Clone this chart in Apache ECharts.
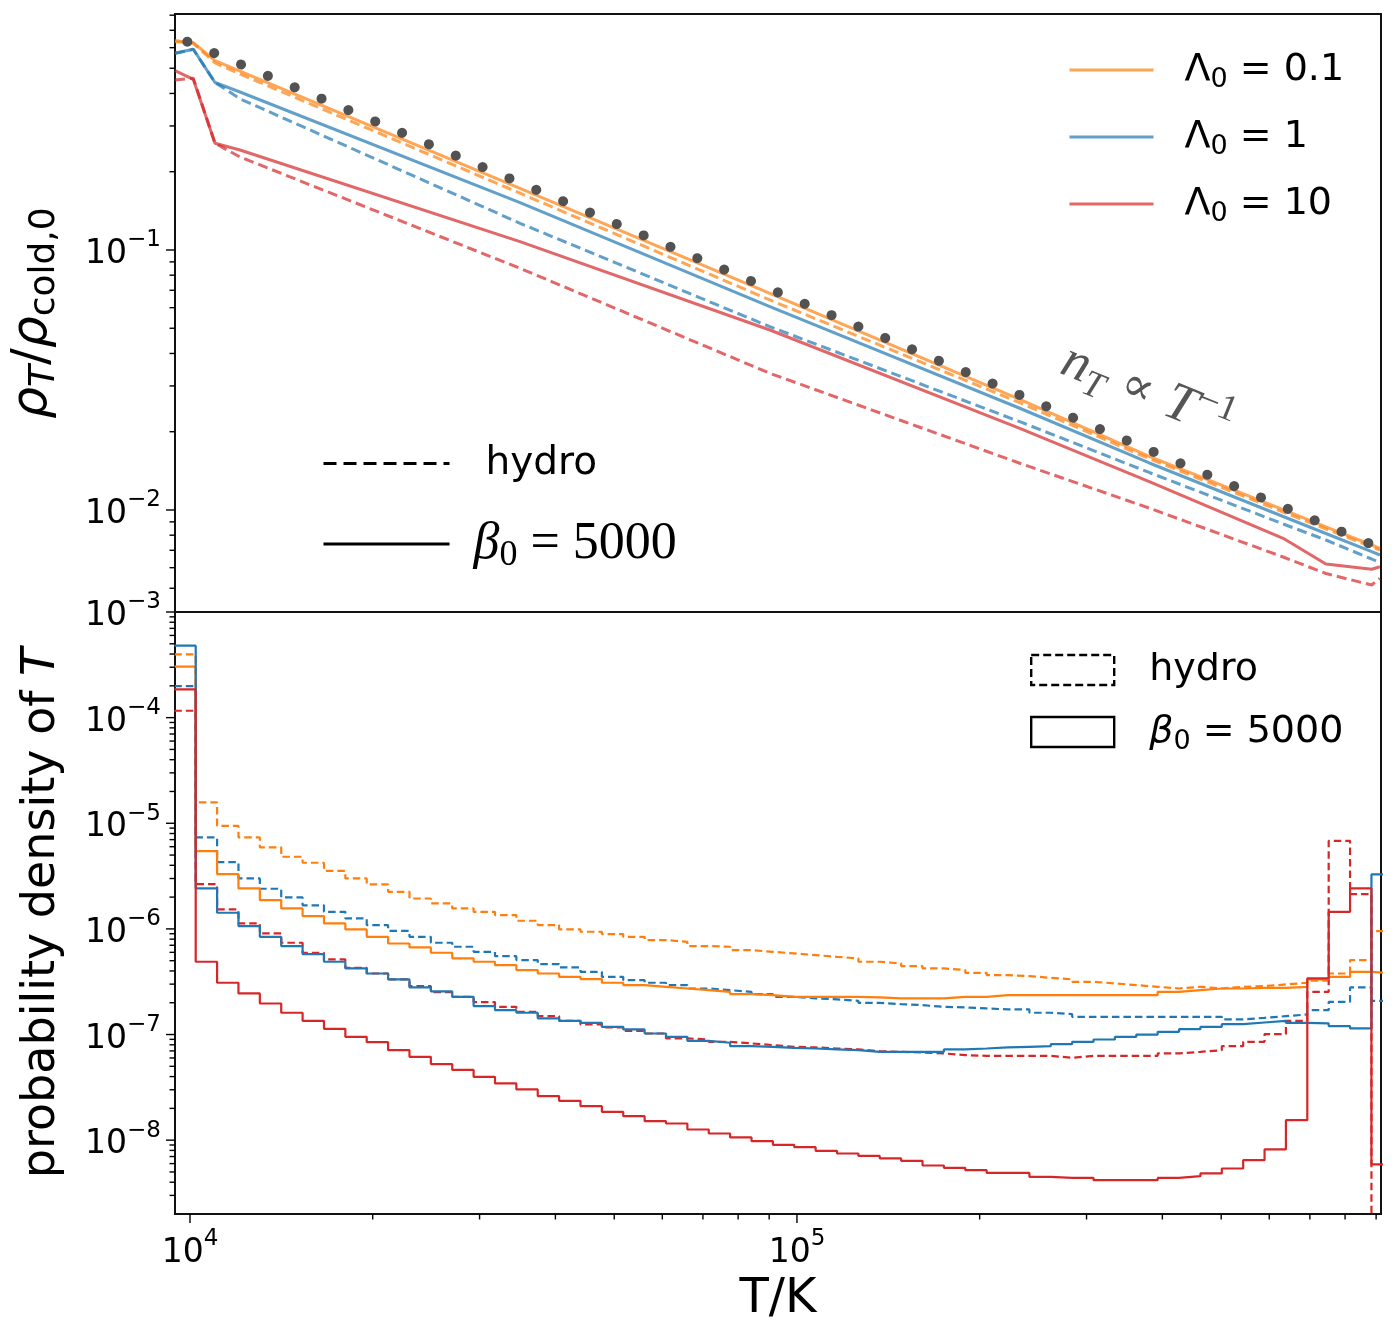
<!DOCTYPE html>
<html>
<head>
<meta charset="utf-8">
<script src="https://cdn.jsdelivr.net/npm/echarts@6/dist/echarts.min.js"></script>
<style>
html, body { margin: 0; padding: 0; background: #fff; }
#main { width: 1394px; height: 1332px; }
</style>
</head>
<body>
<div id="main"></div>
<script>
// ---------- top panel: rho_T / rho_cold,0 against T ----------
var topT = [9447, 10126, 10995, 12089, 34977, 90254, 232900, 381500, 632500, 743800, 884900, 912900];
var rhoOrangeMhd   = [0.6326, 0.6271, 0.5346, 0.4872, 0.1727, 0.06816, 0.02666, 0.01603, 0.01003, 0.008618, 0.007335, 0.007123];
var rhoOrangeHydro = [0.6395, 0.6238, 0.5238, 0.4752, 0.1653, 0.06423, 0.02586, 0.01571, 0.009824, 0.00845, 0.007206, 0.007017];
var rhoBlueMhd     = [0.5708, 0.5914, 0.4407, 0.4052, 0.1521, 0.06053, 0.02462, 0.01513, 0.009441, 0.008121, 0.006912, 0.006713];
var rhoBlueHydro   = [0.5708, 0.5914, 0.4407, 0.3815, 0.1267, 0.0507, 0.02186, 0.01391, 0.008835, 0.007667, 0.006479, 0.006271];
var rhoRedMhd      = [0.4893, 0.4534, 0.2572, 0.2424, 0.1077, 0.04924, 0.02062, 0.01284, 0.007783, 0.006199, 0.005914, 0.006052];
var rhoRedHydro    = [0.4506, 0.4575, 0.2572, 0.2279, 0.08503, 0.03355, 0.01513, 0.01015, 0.006595, 0.005699, 0.005146, 0.005461];

// dotted guide n_T ~ T^-1 (its two end points)
var guideT = [9898, 875800];
var guideRho = [0.6326, 0.007444];

// ---------- bottom panel: probability density of T (log10 values per bin) ----------
// bins are evenly spaced in log10(T)
var binEdgeLog0 = 3.9742;
var binWidthLog = 0.03522;
var logPdfOrangeHydro = [-3.401, -4.802, -5.024, -5.134, -5.228, -5.317, -5.374, -5.450, -5.522, -5.579,
  -5.649, -5.712, -5.759, -5.806, -5.838, -5.869, -5.923, -5.964, -6.005, -6.027,
  -6.049, -6.075, -6.106, -6.122, -6.163, -6.169, -6.201, -6.217, -6.232, -6.248,
  -6.264, -6.279, -6.311, -6.327, -6.352, -6.374, -6.390, -6.416, -6.438, -6.447,
  -6.463, -6.478, -6.501, -6.516, -6.532, -6.548, -6.564, -6.548, -6.564, -6.548,
  -6.542, -6.526, -6.510, -6.491, -6.422, -6.295, -6.021];
var logPdfOrangeMhd = [-3.518, -5.263, -5.481, -5.617, -5.727, -5.806, -5.879, -5.948, -6.005, -6.075,
  -6.138, -6.175, -6.226, -6.279, -6.311, -6.343, -6.390, -6.422, -6.454, -6.475,
  -6.510, -6.532, -6.548, -6.564, -6.580, -6.596, -6.617, -6.627, -6.643, -6.643,
  -6.643, -6.643, -6.649, -6.658, -6.658, -6.658, -6.643, -6.643, -6.627, -6.627,
  -6.627, -6.627, -6.627, -6.627, -6.627, -6.627, -6.596, -6.580, -6.564, -6.564,
  -6.558, -6.558, -6.548, -6.478, -6.454, -6.406, -6.422];
var logPdfBlueHydro = [-3.701, -5.134, -5.367, -5.522, -5.620, -5.702, -5.777, -5.838, -5.901, -5.964,
  -6.018, -6.075, -6.131, -6.169, -6.217, -6.258, -6.295, -6.333, -6.365, -6.406,
  -6.454, -6.485, -6.510, -6.532, -6.564, -6.580, -6.596, -6.617, -6.643, -6.658,
  -6.667, -6.681, -6.700, -6.712, -6.722, -6.738, -6.743, -6.753, -6.762, -6.762,
  -6.794, -6.807, -6.832, -6.832, -6.832, -6.832, -6.832, -6.832, -6.832, -6.857,
  -6.842, -6.826, -6.810, -6.769, -6.690, -6.554, -6.681];
var logPdfBlueMhd = [-3.319, -5.617, -5.847, -5.973, -6.075, -6.163, -6.239, -6.311, -6.374, -6.422,
  -6.478, -6.554, -6.592, -6.643, -6.731, -6.769, -6.794, -6.847, -6.870, -6.889,
  -6.927, -6.952, -6.990, -7.022, -7.060, -7.078, -7.110, -7.116, -7.126, -7.132,
  -7.141, -7.148, -7.164, -7.164, -7.164, -7.164, -7.141, -7.132, -7.122, -7.116,
  -7.110, -7.091, -7.069, -7.047, -7.022, -7.000, -6.974, -6.949, -6.927, -6.902,
  -6.886, -6.870, -6.889, -6.895, -6.920, -6.942, -5.484];
var logPdfRedHydro = [-3.935, -5.576, -5.815, -5.948, -6.043, -6.131, -6.226, -6.289, -6.368, -6.422,
  -6.478, -6.542, -6.598, -6.643, -6.693, -6.738, -6.785, -6.826, -6.870, -6.905,
  -6.933, -6.965, -6.990, -7.037, -7.047, -7.069, -7.084, -7.100, -7.116, -7.122,
  -7.132, -7.141, -7.157, -7.164, -7.170, -7.179, -7.195, -7.202, -7.202, -7.202,
  -7.202, -7.220, -7.202, -7.202, -7.202, -7.202, -7.179, -7.164, -7.148, -7.110,
  -7.069, -6.996, -6.870, -6.596, -5.166, -5.670, null];  // last bin empty
var logPdfRedMhd = [-3.732, -6.311, -6.510, -6.611, -6.706, -6.794, -6.870, -6.946, -7.022, -7.072,
  -7.148, -7.211, -7.280, -7.335, -7.400, -7.463, -7.520, -7.583, -7.628, -7.678,
  -7.732, -7.773, -7.820, -7.842, -7.899, -7.937, -7.974, -8.009, -8.044, -8.066,
  -8.101, -8.126, -8.149, -8.173, -8.196, -8.240, -8.262, -8.284, -8.310, -8.310,
  -8.347, -8.357, -8.357, -8.379, -8.379, -8.379, -8.357, -8.341, -8.315, -8.268,
  -8.189, -8.088, -7.811, -6.469, -5.838, -5.617, -8.230];

// axis ranges
var xMin = 9447, xMax = 916800;
var yTopMin = 0.004052, yTopMax = 0.8084;
var yBotMin = 2e-9, yBotMax = 1e-3;

var cOrange = '#ff7f0e', cBlue = '#1f77b4', cRed = '#d62728';
var SANS = 'DejaVu Sans';
var SERIF = 'Liberation Serif';

function pairs(xs, ys) {
  var out = [];
  for (var i = 0; i < xs.length; i++) out.push([xs[i], ys[i]]);
  return out;
}

// step outline: each bin value placed at its left edge, last value repeated at the right edge
function histData(logVals) {
  var out = [];
  for (var j = 0; j < logVals.length; j++) {
    // empty bin -> far below the axis so the outline drops to the bottom
    var v = logVals[j] === null ? 1e-14 : Math.pow(10, logVals[j]);
    out.push([Math.pow(10, binEdgeLog0 + j * binWidthLog), v]);
  }
  out.push([Math.pow(10, binEdgeLog0 + logVals.length * binWidthLog), out[out.length - 1][1]]);
  return out;
}

function topLine(name, ys, color, dashed) {
  return {
    name: name, type: 'line', xAxisIndex: 0, yAxisIndex: 0,
    data: pairs(topT, ys), symbol: 'none', z: 3,
    lineStyle: { color: color, width: 3, opacity: 0.7, type: dashed ? [10, 5] : 'solid' },
    itemStyle: { color: color, opacity: 0.7 }
  };
}

function histLine(name, logVals, color, dashed) {
  return {
    name: name, type: 'line', xAxisIndex: 1, yAxisIndex: 1,
    data: histData(logVals), step: 'end', symbol: 'none', z: 3,
    lineStyle: { color: color, width: 2.2, type: dashed ? [7.5, 4] : 'solid' },
    itemStyle: { color: color }
  };
}

// tick marks (major and minor) drawn through the axes' scales
function decadeTicks(lo, hi) {
  var major = [], minor = [];
  for (var e = Math.floor(Math.log10(lo)); e <= Math.ceil(Math.log10(hi)); e++) {
    for (var m = 1; m <= 9; m++) {
      var v = m * Math.pow(10, e);
      if (v < lo * 1.0001 || v > hi * 0.9999) continue;
      (m === 1 ? major : minor).push(v);
    }
  }
  return { major: major, minor: minor };
}

function tickSeries(xi, yi, dir, fixed, t) {
  var data = [];
  t.major.forEach(function (v) { data.push(dir === 'x' ? [v, fixed, 9] : [fixed, v, 9]); });
  t.minor.forEach(function (v) { data.push(dir === 'x' ? [v, fixed, 5.5] : [fixed, v, 5.5]); });
  return {
    type: 'custom', xAxisIndex: xi, yAxisIndex: yi, silent: true, clip: false, z: 5,
    data: data,
    renderItem: function (params, api) {
      var p = api.coord([api.value(0), api.value(1)]);
      var len = api.value(2);
      return {
        type: 'line',
        shape: dir === 'x'
          ? { x1: p[0], y1: p[1], x2: p[0], y2: p[1] + len }
          : { x1: p[0], y1: p[1], x2: p[0] - len, y2: p[1] },
        style: { stroke: '#000', lineWidth: 1.4 }
      };
    }
  };
}

function powLabel(v) {
  var e = Math.log10(v);
  var r = Math.round(e);
  if (Math.abs(e - r) > 1e-6) return '';
  return '{b|10}{s|' + (r < 0 ? '\u2212' + (-r) : r) + '}';
}

var tickRich = {
  b: { fontSize: 33, lineHeight: 42, fontFamily: SANS, color: '#000', verticalAlign: 'bottom' },
  s: { fontSize: 23, lineHeight: 23, fontFamily: SANS, color: '#000', verticalAlign: 'top' }
};

var legendText = {
  lam01: '{a|\u039b}{s|0}{a| = 0.1}',
  lam1: '{a|\u039b}{s|0}{a| = 1}',
  lam10: '{a|\u039b}{s|0}{a| = 10}',
  hydroLine: '{h|hydro}',
  mhdLine: '{b|\u03b2}{s|0}{e| = 5000}',
  hydroBox: '{a|hydro}',
  mhdBox: '{b|\u03b2}{s|0}{a| = 5000}'
};
function legendFmt(name) { return legendText[name]; }

var myChart = echarts.init(document.getElementById('main'));

var option = {
  animation: false,
  backgroundColor: '#fff',
  textStyle: { fontFamily: SANS },
  grid: [
    { left: 175, top: 14, width: 1206, height: 598, show: true, borderColor: '#111', borderWidth: 2, backgroundColor: 'transparent' },
    { left: 175, top: 612, width: 1206, height: 602, show: true, borderColor: '#111', borderWidth: 2, backgroundColor: 'transparent' }
  ],
  xAxis: [
    { type: 'log', gridIndex: 0, min: xMin, max: xMax, show: false, splitLine: { show: false } },
    {
      type: 'log', gridIndex: 1, min: xMin, max: xMax,
      name: 'T/K', nameLocation: 'middle', nameGap: 62,
      nameTextStyle: { fontSize: 48, fontFamily: SANS, color: '#000' },
      axisLine: { show: false }, axisTick: { show: false }, splitLine: { show: false },
      axisLabel: { margin: 14, formatter: powLabel, rich: tickRich }
    }
  ],
  yAxis: [
    {
      type: 'log', gridIndex: 0, min: yTopMin, max: yTopMax,
      name: '{r|\u03c1}{si|T}{n|/}{r|\u03c1}{s|cold,0}',
      nameLocation: 'middle', nameGap: 112, nameRotate: 90,
      nameTextStyle: {
        color: '#000',
        rich: {
          r: { fontSize: 50, fontStyle: 'italic', fontFamily: SANS, lineHeight: 60, color: '#000' },
          n: { fontSize: 50, fontFamily: SANS, lineHeight: 60, color: '#000' },
          si: { fontSize: 36, fontStyle: 'italic', fontFamily: SANS, lineHeight: 36, verticalAlign: 'bottom', color: '#000' },
          s: { fontSize: 36, fontFamily: SANS, lineHeight: 36, verticalAlign: 'bottom', color: '#000' }
        }
      },
      axisLine: { show: false }, axisTick: { show: false }, splitLine: { show: false },
      axisLabel: { margin: 14, formatter: powLabel, rich: tickRich }
    },
    {
      type: 'log', gridIndex: 1, min: yBotMin, max: yBotMax,
      name: 'probability density of {i|T}',
      nameLocation: 'middle', nameGap: 110, nameRotate: 90,
      nameTextStyle: {
        fontSize: 46, fontFamily: SANS, color: '#000',
        rich: { i: { fontSize: 46, fontStyle: 'italic', fontFamily: SANS, color: '#000' } }
      },
      axisLine: { show: false }, axisTick: { show: false }, splitLine: { show: false },
      axisLabel: { margin: 14, formatter: powLabel, rich: tickRich }
    }
  ],
  legend: [
    {
      data: ['lam01', 'lam1', 'lam10'],
      orient: 'vertical', left: 1068, top: 51, padding: 0, itemGap: 25,
      itemWidth: 84, itemHeight: 20, selectedMode: false,
      lineStyle: { width: 3 },
      itemStyle: { opacity: 0, borderWidth: 0 },
      formatter: legendFmt,
      textStyle: {
        padding: [0, 0, 0, 26],
        rich: {
          a: { fontSize: 38, lineHeight: 46, fontFamily: SANS, color: '#000' },
          s: { fontSize: 27, lineHeight: 27, fontFamily: SANS, color: '#000', verticalAlign: 'bottom' }
        }
      }
    },
    {
      data: ['hydroLine', 'mhdLine'],
      orient: 'vertical', left: 322, top: 444, padding: 0, itemGap: 35,
      itemWidth: 126, itemHeight: 20, selectedMode: false,
      lineStyle: { width: 3 },
      itemStyle: { opacity: 0, borderWidth: 0 },
      formatter: legendFmt,
      textStyle: {
        padding: [0, 0, 0, 19],
        rich: {
          h: { fontSize: 39, lineHeight: 46, fontFamily: SANS, color: '#000', padding: [0, 0, 0, 12] },
          b: { fontSize: 52, lineHeight: 60, fontFamily: SERIF, fontStyle: 'italic', color: '#000' },
          s: { fontSize: 36, lineHeight: 36, fontFamily: SERIF, color: '#000', verticalAlign: 'bottom' },
          e: { fontSize: 52, lineHeight: 60, fontFamily: SERIF, color: '#000' }
        }
      }
    },
    {
      data: [
        { name: 'hydroBox', icon: 'rect', itemStyle: { color: 'rgba(0,0,0,0)', opacity: 1, borderColor: '#000', borderWidth: 2.4, borderType: [8, 4] } },
        { name: 'mhdBox', icon: 'rect', itemStyle: { color: 'rgba(0,0,0,0)', opacity: 1, borderColor: '#000', borderWidth: 2.4, borderType: 'solid' } }
      ],
      orient: 'vertical', left: 1030, top: 651, padding: 0, itemGap: 24,
      itemWidth: 83, itemHeight: 30, selectedMode: false, symbolKeepAspect: false,
      formatter: legendFmt,
      textStyle: {
        padding: [0, 0, 0, 30],
        rich: {
          a: { fontSize: 38, lineHeight: 46, fontFamily: SANS, color: '#000' },
          b: { fontSize: 38, lineHeight: 46, fontFamily: SANS, fontStyle: 'italic', color: '#000' },
          s: { fontSize: 27, lineHeight: 27, fontFamily: SANS, color: '#000', verticalAlign: 'bottom' }
        }
      }
    }
  ],
  graphic: [
    {
      type: 'text', x: 1147, y: 393, rotation: -22 * Math.PI / 180, z: 10,
      style: {
        text: '{i|n}{sub|T}{r| \u221d }{i|T}{sup|\u22121}',
        align: 'center', verticalAlign: 'middle', fill: '#555',
        rich: {
          i: { fontSize: 54, lineHeight: 66, fontFamily: SERIF, fontStyle: 'italic', fill: '#555' },
          r: { fontSize: 48, lineHeight: 66, fontFamily: 'DejaVu Serif', fill: '#555' },
          sub: { fontSize: 37, lineHeight: 36, fontFamily: SERIF, fontStyle: 'italic', fill: '#555', verticalAlign: 'bottom' },
          sup: { fontSize: 37, lineHeight: 36, fontFamily: SERIF, fill: '#555', verticalAlign: 'top' }
        }
      }
    }
  ],
  series: [
    topLine('oh', rhoOrangeHydro, cOrange, true),
    topLine('lam01', rhoOrangeMhd, cOrange, false),
    topLine('bh', rhoBlueHydro, cBlue, true),
    topLine('lam1', rhoBlueMhd, cBlue, false),
    topLine('rh', rhoRedHydro, cRed, true),
    topLine('lam10', rhoRedMhd, cRed, false),
    {
      name: 'guide', type: 'line', xAxisIndex: 0, yAxisIndex: 0, z: 4,
      data: pairs(guideT, guideRho), symbol: 'none',
      lineStyle: { color: '#525252', width: 10, type: [0.1, 29.06], cap: 'round' }
    },
    { name: 'hydroLine', type: 'line', xAxisIndex: 0, yAxisIndex: 0, data: [], symbol: 'none',
      lineStyle: { color: '#000', width: 3, type: [13, 7] }, itemStyle: { color: '#000' } },
    { name: 'mhdLine', type: 'line', xAxisIndex: 0, yAxisIndex: 0, data: [], symbol: 'none',
      lineStyle: { color: '#000', width: 3 }, itemStyle: { color: '#000' } },

    histLine('hoh', logPdfOrangeHydro, cOrange, true),
    histLine('hbh', logPdfBlueHydro, cBlue, true),
    histLine('hrh', logPdfRedHydro, cRed, true),
    histLine('hom', logPdfOrangeMhd, cOrange, false),
    histLine('hbm', logPdfBlueMhd, cBlue, false),
    histLine('hrm', logPdfRedMhd, cRed, false),
    { name: 'hydroBox', type: 'line', xAxisIndex: 1, yAxisIndex: 1, data: [], symbol: 'none', lineStyle: { color: '#000' } },
    { name: 'mhdBox', type: 'line', xAxisIndex: 1, yAxisIndex: 1, data: [], symbol: 'none', lineStyle: { color: '#000' } },

    tickSeries(1, 1, 'x', yBotMin, decadeTicks(xMin, xMax)),
    tickSeries(0, 0, 'y', xMin, decadeTicks(yTopMin, yTopMax)),
    tickSeries(1, 1, 'y', xMin, decadeTicks(yBotMin, yBotMax * 1.001))
  ]
};

myChart.setOption(option);
</script>
</body>
</html>
